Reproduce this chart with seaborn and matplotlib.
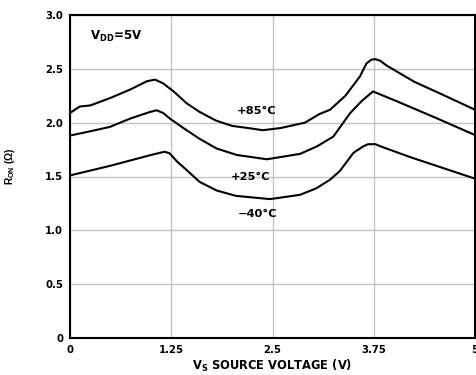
import matplotlib
matplotlib.use("Agg")
import matplotlib.pyplot as plt
import seaborn as sns
import pandas as pd

# Data
v_85 = [0, 0.12, 0.25, 0.5, 0.75, 0.95, 1.05, 1.15, 1.28, 1.44, 1.6, 1.8, 2.0, 2.2, 2.38, 2.6, 2.84, 2.9, 3.08, 3.21, 3.4, 3.58, 3.66, 3.72, 3.77, 3.83, 3.91, 4.25, 4.6, 5.0]
r_85 = [2.09, 2.15, 2.16, 2.23, 2.31, 2.385, 2.40, 2.365, 2.29, 2.18, 2.10, 2.02, 1.97, 1.95, 1.93, 1.95, 1.99, 2.00, 2.08, 2.12, 2.25, 2.43, 2.55, 2.585, 2.59, 2.575, 2.53, 2.38, 2.26, 2.12]

v_25 = [0, 0.25, 0.49, 0.75, 0.99, 1.07, 1.15, 1.23, 1.40, 1.6, 1.81, 2.06, 2.43, 2.84, 3.05, 3.25, 3.46, 3.6, 3.74, 4.0, 4.5, 5.0]
r_25 = [1.88, 1.92, 1.96, 2.04, 2.10, 2.115, 2.09, 2.04, 1.95, 1.85, 1.76, 1.70, 1.66, 1.71, 1.78, 1.87, 2.09, 2.20, 2.29, 2.21, 2.05, 1.885]

v_m40 = [0, 0.5, 1.0, 1.11, 1.17, 1.23, 1.32, 1.44, 1.6, 1.81, 2.05, 2.47, 2.84, 3.04, 3.21, 3.33, 3.5, 3.62, 3.68, 3.77, 3.87, 4.2, 4.6, 5.0]
r_m40 = [1.51, 1.60, 1.70, 1.72, 1.73, 1.715, 1.64, 1.56, 1.45, 1.37, 1.32, 1.29, 1.33, 1.39, 1.47, 1.55, 1.72, 1.78, 1.80, 1.80, 1.77, 1.68, 1.58, 1.48]

series_labels = ["+85°C", "+25°C", "\u221240°C"]
label_pos = [(2.30, 2.11), (2.23, 1.495), (2.31, 1.15)]

x_ticks = [0, 1.25, 2.5, 3.75, 5]
x_ticklabels = ["0", "1.25", "2.5", "3.75", "5"]
y_ticks = [0, 0.5, 1.0, 1.5, 2.0, 2.5, 3.0]
y_ticklabels = ["0", "0.5", "1.0", "1.5", "2.0", "2.5", "3.0"]

sns.set_theme(style="whitegrid")
plt.rcParams["font.family"] = ["DejaVu Sans"]
plt.rcParams["font.weight"] = "bold"
plt.rcParams["mathtext.fontset"] = "custom"
plt.rcParams["mathtext.rm"] = "DejaVu Sans:bold"
plt.rcParams["mathtext.bf"] = "DejaVu Sans:bold"
plt.rcParams["mathtext.it"] = "DejaVu Sans:bold"

frames = []
for name, vs, rs in [("85", v_85, r_85), ("25", v_25, r_25), ("m40", v_m40, r_m40)]:
    frames.append(pd.DataFrame({"V": vs, "R": rs, "T": name}))
df = pd.concat(frames, ignore_index=True)

fig = plt.figure(figsize=(4.76, 3.75), dpi=100)
ax = fig.add_axes([70/476, 1 - 338/375, 405/476, 323/375])

sns.lineplot(data=df, x="V", y="R", units="T", estimator=None, sort=False,
             color="black", linewidth=1.5, ax=ax, legend=False)

ax.set_xlim(0, 5)
ax.set_ylim(0, 3.0)
ax.set_xticks(x_ticks)
ax.set_xticklabels(x_ticklabels, fontsize=7.3, fontweight="bold")
ax.set_yticks(y_ticks)
ax.set_yticklabels(y_ticklabels, fontsize=7.3, fontweight="bold")
ax.tick_params(axis="both", length=0, pad=5, colors="black")
ax.grid(True, color="#c4c4c4", linewidth=1.0)
for s in ax.spines.values():
    s.set_color("black")
    s.set_linewidth(1.5)
    s.set_visible(True)

ax.set_xlabel(r"$\mathregular{V_S}$ SOURCE VOLTAGE (V)", fontsize=8.3, fontweight="bold", labelpad=2, color="black")
ax.set_ylabel(r"$\mathregular{R_{ON}}$ (Ω)", fontsize=7.3, fontweight="bold", color="black",
              family="Liberation Sans")
ax.yaxis.set_label_coords(-(70 - 17) / 405, (338 - 166) / 323)

for lab, (x, y) in zip(series_labels, label_pos):
    ax.text(x, y, lab, fontsize=8.2, fontweight="bold", ha="center", va="center", color="black")
ax.text(0.57, 2.80, r"$\mathregular{V_{DD}}$=5V", fontsize=8.5, fontweight="bold", ha="center", va="center", color="black")

fig.savefig("out.png", dpi=100)
